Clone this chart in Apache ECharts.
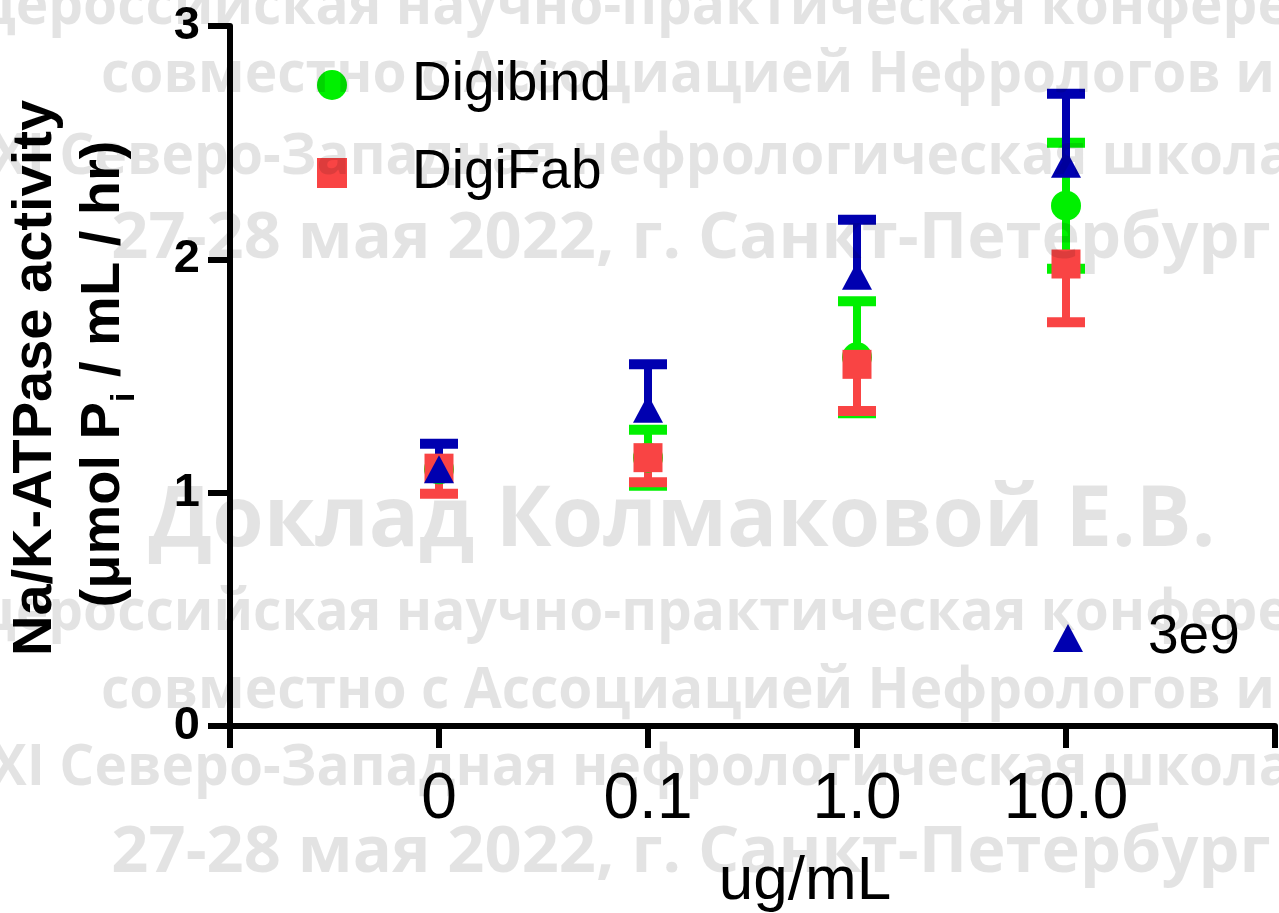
<!DOCTYPE html>
<html>
<head>
<meta charset="utf-8">
<title>Na/K-ATPase activity</title>
<script src="https://cdn.jsdelivr.net/npm/echarts@6/dist/echarts.min.js"></script>
<style>
  html, body { margin: 0; padding: 0; background: #fff; }
  #main { width: 1279px; height: 913px; }
</style>
</head>
<body>
<div id="main"></div>
<script>
// doses on the x axis (placed at positions 1..4)
const categories = ["0", "0.1", "1.0", "10.0"];
const xPos = [1, 2, 3, 4];
const yTicks = [0, 1, 2, 3];

// Digibind: mean and SEM (both sides)
const digibind = [1.10, 1.15, 1.58, 2.23];
const digibindErr = [0, 0.12, 0.24, 0.27];
// DigiFab: mean and SEM (drawn downward)
const digifab = [1.105, 1.15, 1.55, 1.98];
const digifabErr = [0.11, 0.105, 0.20, 0.25];
// 3e9: mean and SEM (drawn upward)
const e9 = [1.10, 1.36, 1.93, 2.41];
const e9Err = [0.11, 0.19, 0.24, 0.30];

// watermark lines
const wmLines = [
  "Общероссийская научно-практическая конференция",
  "совместно с Ассоциацией Нефрологов и",
  "XI Северо-Западная нефрологическая школа",
  "27-28 мая 2022, г. Санкт-Петербург"
];
const wmTitle = "Доклад Колмаковой Е.В.";

const FONT = "Liberation Sans, Arial, sans-serif";
const GREEN = "#00f000";
const RED = "#f94444";
const BLUE = "#0000b0";

// [x, mean, low, high]
function errData(means, errs, up, down) {
  return means.map((m, i) => [xPos[i], m, down ? m - errs[i] : m, up ? m + errs[i] : m]);
}

function errRender(color) {
  return function (params, api) {
    const x = api.value(0);
    const mean = api.value(1);
    const lo = api.value(2);
    const hi = api.value(3);
    const pLo = api.coord([x, lo]);
    const pHi = api.coord([x, hi]);
    const children = [];
    if (hi - lo > 0) {
      children.push({
        type: "rect",
        shape: { x: pLo[0] - 4, y: pHi[1], width: 8, height: pLo[1] - pHi[1] },
        style: { fill: color }
      });
    }
    if (hi > mean) {
      children.push({
        type: "rect",
        shape: { x: pHi[0] - 19, y: pHi[1] - 5, width: 38, height: 10 },
        style: { fill: color }
      });
    }
    if (lo < mean) {
      children.push({
        type: "rect",
        shape: { x: pLo[0] - 19, y: pLo[1] - 5, width: 38, height: 10 },
        style: { fill: color }
      });
    }
    return { type: "group", children: children };
  };
}

function scatterData(means) {
  return means.map((m, i) => [xPos[i], m]);
}

// watermark rows: [text, centre x, centre y, font size, horizontal squeeze]
const wmRows = [
  [wmLines[0], 660, 8, 57, 0.966],
  [wmLines[1], 688, 76, 57, 0.967],
  [wmLines[2], 641, 158, 57, 0.966],
  [wmLines[3], 691, 239, 65, 1.0],
  [wmTitle, 682, 522, 84, 0.99],
  [wmLines[0], 660, 614, 57, 0.966],
  [wmLines[1], 688, 692, 57, 0.967],
  [wmLines[2], 641, 769, 57, 0.966],
  [wmLines[3], 691, 853, 65, 1.0]
];

const graphics = wmRows.map(r => ({
  type: "text",
  x: r[1],
  y: r[2],
  scaleX: r[4],
  z: 100,
  silent: true,
  style: {
    text: r[0],
    fontFamily: "Open Sans",
    fontWeight: "bold",
    fontSize: r[3],
    fill: "rgba(0,0,0,0.11)",
    align: "center",
    verticalAlign: "middle"
  }
}));

// y axis title, two rotated lines
graphics.push({
  type: "text",
  x: 36,
  y: 378,
  rotation: Math.PI / 2,
  style: {
    text: "Na/K-ATPase activity",
    fontFamily: FONT,
    fontWeight: "bold",
    fontSize: 56,
    fill: "#000",
    align: "center",
    verticalAlign: "middle"
  }
});
graphics.push({
  type: "text",
  x: 104,
  y: 374,
  rotation: Math.PI / 2,
  style: {
    text: "{a|(μmol P}{s|i}{a| / mL / hr)}",
    align: "center",
    verticalAlign: "middle",
    rich: {
      a: { fontFamily: FONT, fontWeight: "bold", fontSize: 56, lineHeight: 56, fill: "#000", verticalAlign: "top" },
      s: { fontFamily: FONT, fontWeight: "bold", fontSize: 34, lineHeight: 34, fill: "#000", verticalAlign: "top", padding: [32, 0, 0, 0] }
    }
  }
});
// x axis title
graphics.push({
  type: "text",
  x: 805,
  y: 882,
  style: {
    text: "ug/mL",
    fontFamily: FONT,
    fontSize: 62,
    fill: "#000",
    align: "center",
    verticalAlign: "middle"
  }
});

const legendText = { fontFamily: FONT, fontSize: 55, lineHeight: 56, color: "#000", padding: [0, 0, 0, 60] };

const option = {
  animation: false,
  backgroundColor: "#fff",
  grid: { left: 230, right: 4, top: 26, bottom: 187, containLabel: false },
  legend: [
    {
      data: ["Digibind", "DigiFab"],
      orient: "vertical",
      left: 312,
      top: 52,
      itemGap: 32,
      itemWidth: 30,
      itemHeight: 30,
      selectedMode: false,
      textStyle: legendText
    },
    {
      data: ["3e9"],
      left: 1048,
      top: 605,
      itemWidth: 30,
      itemHeight: 28,
      selectedMode: false,
      textStyle: legendText
    }
  ],
  xAxis: {
    type: "value",
    min: 0,
    max: 5,
    interval: 1,
    splitLine: { show: false },
    axisLine: { lineStyle: { color: "#000", width: 6 } },
    axisTick: { length: 22, lineStyle: { color: "#000", width: 6 } },
    axisLabel: {
      fontFamily: FONT,
      fontSize: 64,
      color: "#000",
      margin: 42,
      formatter: v => categories[xPos.indexOf(v)] || ""
    }
  },
  yAxis: {
    type: "value",
    min: yTicks[0],
    max: yTicks[yTicks.length - 1],
    interval: 1,
    splitLine: { show: false },
    axisLine: { show: true, lineStyle: { color: "#000", width: 6 } },
    axisTick: { show: true, length: 22, lineStyle: { color: "#000", width: 6 } },
    axisLabel: {
      fontFamily: FONT,
      fontWeight: "bold",
      fontSize: 47,
      color: "#000",
      margin: 30
    }
  },
  series: [
    {
      name: "Digibind err",
      type: "custom",
      renderItem: errRender(GREEN),
      data: errData(digibind, digibindErr, true, true),
      silent: true
    },
    {
      name: "Digibind",
      type: "scatter",
      symbol: "circle",
      symbolSize: 30,
      itemStyle: { color: GREEN, opacity: 1 },
      data: scatterData(digibind)
    },
    {
      name: "DigiFab err",
      type: "custom",
      renderItem: errRender(RED),
      data: errData(digifab, digifabErr, false, true),
      silent: true
    },
    {
      name: "DigiFab",
      type: "scatter",
      symbol: "rect",
      symbolSize: 29,
      itemStyle: { color: RED, opacity: 1 },
      data: scatterData(digifab)
    },
    {
      name: "3e9 err",
      type: "custom",
      renderItem: errRender(BLUE),
      data: errData(e9, e9Err, true, false),
      silent: true
    },
    {
      name: "3e9",
      type: "scatter",
      symbol: "triangle",
      symbolSize: [30, 28],
      itemStyle: { color: BLUE, opacity: 1 },
      data: scatterData(e9)
    }
  ],
  graphic: graphics
};

const myChart = echarts.init(document.getElementById("main"));
myChart.setOption(option);
</script>
</body>
</html>
